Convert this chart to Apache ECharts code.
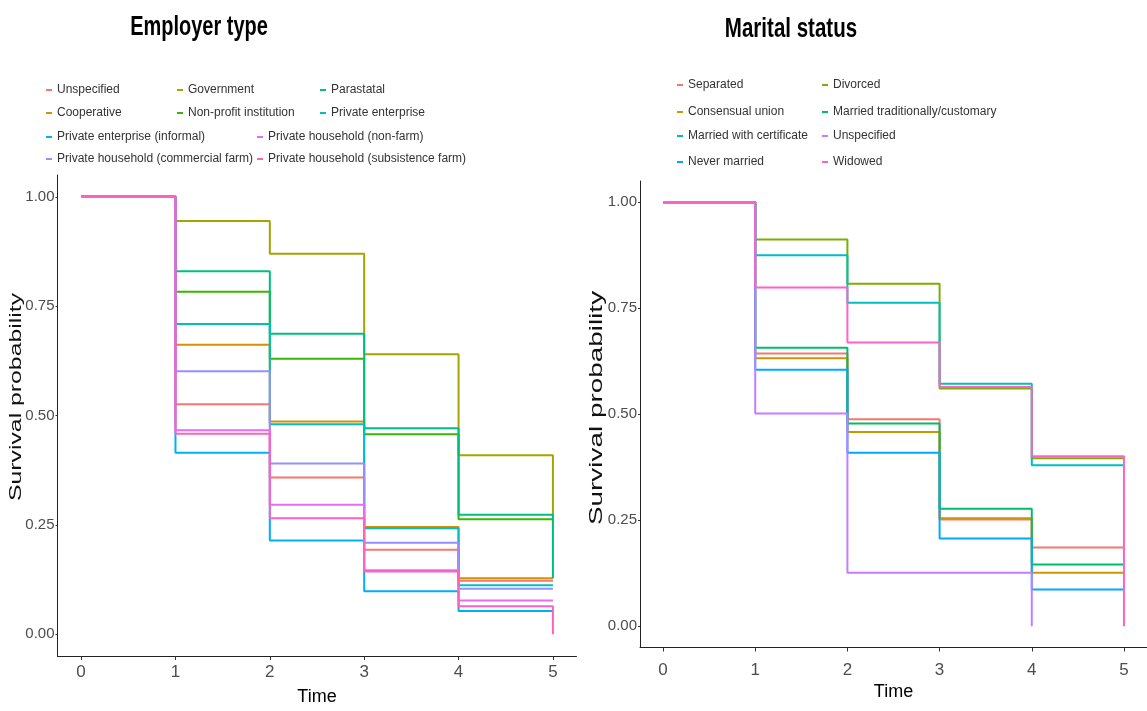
<!DOCTYPE html>
<html>
<head>
<meta charset="utf-8">
<script src="https://cdn.jsdelivr.net/npm/echarts@6/dist/echarts.min.js"></script>
<style>
  html, body { margin: 0; padding: 0; background: #ffffff; }
  #wrap { position: relative; width: 1147px; height: 711px; overflow: hidden; }
  #employer { position: absolute; left: 0; top: 0; width: 600px; height: 711px; }
  #marital { position: absolute; left: 575px; top: 0; width: 572px; height: 711px; }
</style>
</head>
<body>
<div id="wrap">
  <div id="employer"></div>
  <div id="marital"></div>
</div>
<script>
// ---- time points and tick labels ----
const times = [0, 1, 2, 3, 4, 5];
const xTickValues = [0, 1, 2, 3, 4, 5];
const yTickValues = [0, 0.25, 0.5, 0.75, 1];

// ---- Employer type: survival estimate at each time point ----
const empNames = [
  'Unspecified', 'Cooperative', 'Government', 'Non-profit institution', 'Parastatal',
  'Private enterprise', 'Private enterprise (informal)', 'Private household (commercial farm)',
  'Private household (non-farm)', 'Private household (subsistence farm)'
];
const empUnspecified    = [1, 0.526, 0.358, 0.193, 0.122, 0.122];
const empCooperative    = [1, 0.662, 0.486, 0.245, 0.128, 0.128];
const empGovernment     = [1, 0.945, 0.870, 0.640, 0.409, 0.268];
const empNonProfit      = [1, 0.783, 0.630, 0.457, 0.263, 0.263];
const empParastatal     = [1, 0.830, 0.687, 0.471, 0.273, 0.128];
const empPrivate        = [1, 0.709, 0.480, 0.242, 0.112, 0.112];
const empInformal       = [1, 0.415, 0.214, 0.098, 0.053, 0.053];
const empCommercialFarm = [1, 0.601, 0.390, 0.209, 0.104, 0.104];
const empNonFarm        = [1, 0.466, 0.296, 0.146, 0.077, 0.077];
const empSubsistence    = [1, 0.458, 0.265, 0.143, 0.064, 0];

// ---- Marital status: survival estimate at each time point (null = no follow-up) ----
const marNames = [
  'Separated', 'Consensual union', 'Divorced', 'Married traditionally/customary',
  'Married with certificate', 'Never married', 'Unspecified', 'Widowed'
];
const marSeparated    = [1, 0.643, 0.488, 0.252, 0.186, 0.186];
const marConsensual   = [1, 0.632, 0.458, 0.255, 0.126, 0.126];
const marDivorced     = [1, 0.912, 0.808, 0.561, 0.396, 0.396];
const marTraditional  = [1, 0.657, 0.478, 0.277, 0.146, 0.146];
const marCertificate  = [1, 0.875, 0.763, 0.572, 0.380, 0.380];
const marNeverMarried = [1, 0.605, 0.409, 0.207, 0.087, 0.087];
const marUnspecified  = [1, 0.502, 0.126, 0.126, 0, null];
const marWidowed      = [1, 0.799, 0.669, 0.564, 0.401, 0];

// ---- colours ----
const empColors = ['#F8766D', '#D89000', '#A3A500', '#39B600', '#00BF7D',
                   '#00BFC4', '#00B0F6', '#9590FF', '#E76BF3', '#FF62BC'];
const marColors = ['#F8766D', '#CD9600', '#7CAE00', '#00BE67',
                   '#00BFC4', '#00A9FF', '#C77CFF', '#FF61CC'];

// ---- legend slots: [x of key, centre y of row] inside each chart box ----
const empLegendSlots = [
  [46, 90], [46, 113], [177, 90], [177, 113], [320, 90],
  [320, 113], [46, 137], [46, 159], [257, 137], [257, 159]
];
const marLegendSlots = [
  [102, 85], [102, 112], [247, 85], [247, 112],
  [102, 136], [102, 162], [247, 136], [247, 162]
];

const SANS = "'Liberation Sans', Arial, Helvetica, sans-serif";

// step-curve points; a null estimate means the curve has ended
function toSteps(values) {
  return times.map((t, i) => [t, values[i]]).filter(p => p[1] !== null);
}

function buildOption(cfg) {
  const series = cfg.names.map((name, i) => ({
    name: name,
    type: 'line',
    step: 'end',
    showSymbol: false,
    symbol: 'none',
    silent: true,
    animation: false,
    data: toSteps(cfg.values[i]),
    itemStyle: { color: cfg.colors[i] },
    lineStyle: { color: cfg.colors[i], width: 2 }
  }));

  const legends = cfg.names.map((name, i) => ({
    data: [name],
    left: cfg.slots[i][0],
    top: cfg.slots[i][1] - 8,
    padding: 0,
    icon: 'rect',
    itemWidth: 6,
    itemHeight: 2,
    itemGap: 0,
    selectedMode: false,
    textStyle: {
      fontFamily: SANS, fontSize: 12, color: '#333333',
      lineHeight: 16, padding: [0, 0, 0, 0]
    }
  }));

  return {
    animation: false,
    backgroundColor: 'transparent',
    grid: cfg.grid,
    legend: legends,
    graphic: [
      {
        type: 'text', x: cfg.title.x, y: cfg.title.y, scaleX: cfg.title.squeeze, silent: true,
        style: {
          text: cfg.title.text, font: 'bold 27px ' + SANS,
          fill: '#000000', align: 'center', verticalAlign: 'middle'
        }
      },
      {
        type: 'text', x: cfg.yName.x, y: cfg.yName.y, rotation: Math.PI / 2,
        scaleX: cfg.yName.stretch, silent: true,
        style: {
          text: 'Survival probability', font: cfg.yName.size + 'px ' + SANS,
          fill: '#111111', align: 'center', verticalAlign: 'middle'
        }
      }
    ],
    xAxis: {
      type: 'value', min: -0.25, max: 5.25,
      name: 'Time', nameLocation: 'middle', nameGap: cfg.timeGap,
      nameTextStyle: { fontFamily: SANS, fontSize: 18, color: '#000000' },
      axisLine: { show: true, onZero: false, lineStyle: { color: '#222222', width: 1 } },
      axisTick: { show: true, length: 4, customValues: xTickValues, lineStyle: { color: '#333333' } },
      axisLabel: {
        customValues: xTickValues, margin: cfg.xLabelMargin,
        fontFamily: SANS, fontSize: 17, color: '#4D4D4D'
      },
      splitLine: { show: false }
    },
    yAxis: {
      type: 'value', min: -0.05, max: 1.05,
      axisLine: { show: true, onZero: false, lineStyle: { color: '#222222', width: 1 } },
      axisTick: { show: true, length: 2, customValues: yTickValues, lineStyle: { color: '#333333' } },
      axisLabel: {
        customValues: yTickValues, margin: 3,
        fontFamily: SANS, fontSize: 15, color: '#4D4D4D',
        formatter: v => v.toFixed(2)
      },
      splitLine: { show: false }
    },
    series: series
  };
}

const employerChart = echarts.init(document.getElementById('employer'), null, { renderer: 'canvas' });
employerChart.setOption(buildOption({
  names: empNames,
  values: [empUnspecified, empCooperative, empGovernment, empNonProfit, empParastatal,
           empPrivate, empInformal, empCommercialFarm, empNonFarm, empSubsistence],
  colors: empColors,
  slots: empLegendSlots,
  grid: { left: 57.5, top: 175, width: 519, height: 483.5 },
  title: { text: 'Employer type', x: 199, y: 28, squeeze: 0.74 },
  yName: { x: 17, y: 397, size: 16, stretch: 1.55 },
  timeGap: 32,
  xLabelMargin: 8
}));

const maritalChart = echarts.init(document.getElementById('marital'), null, { renderer: 'canvas' });
maritalChart.setOption(buildOption({
  names: marNames,
  values: [marSeparated, marConsensual, marDivorced, marTraditional,
           marCertificate, marNeverMarried, marUnspecified, marWidowed],
  colors: marColors,
  slots: marLegendSlots,
  grid: { left: 65, top: 181, width: 508, height: 466.5 },
  title: { text: 'Marital status', x: 216, y: 30, squeeze: 0.76 },
  yName: { x: 22, y: 408, size: 18, stretch: 1.55 },
  timeGap: 34,
  xLabelMargin: 14
}));
</script>
</body>
</html>
